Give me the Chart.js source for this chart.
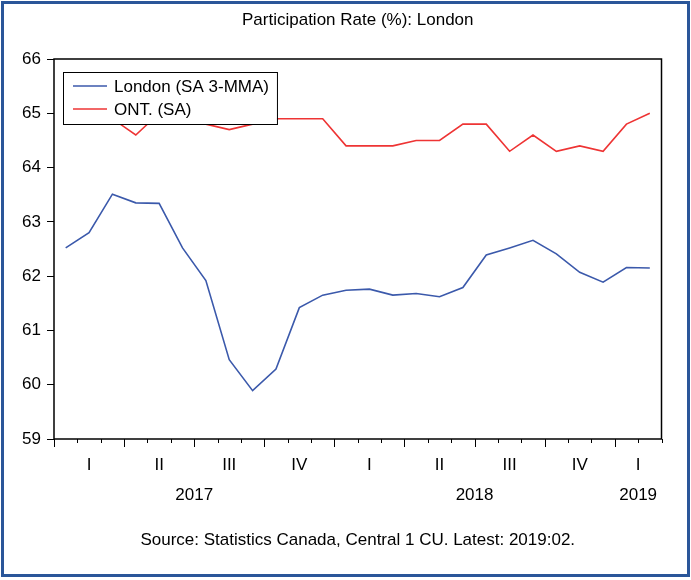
<!DOCTYPE html>
<html>
<head>
<meta charset="utf-8">
<script src="https://cdn.jsdelivr.net/npm/chart.js@4.4.1/dist/chart.umd.min.js"></script>
<style>
  body { margin: 0; background: #fff; }
  #wrap { position: relative; width: 691px; height: 580px; }
  #frame { position: absolute; left: 1px; top: 1px; width: 683px; height: 570px; border: 3px solid #2a5699; pointer-events: none; }
</style>
</head>
<body>
<div id="wrap">
  <canvas id="myChart" width="691" height="580"></canvas>
  <div id="frame"></div>
</div>
<script>
// monthly, Jan 2017 .. Feb 2019
const months = [
  '2017-01', '2017-02', '2017-03', '2017-04', '2017-05', '2017-06',
  '2017-07', '2017-08', '2017-09', '2017-10', '2017-11', '2017-12',
  '2018-01', '2018-02', '2018-03', '2018-04', '2018-05', '2018-06',
  '2018-07', '2018-08', '2018-09', '2018-10', '2018-11', '2018-12',
  '2019-01', '2019-02'
];
const london = [
  62.52, 62.80, 63.51, 63.35, 63.34, 62.52, 61.92, 60.46, 59.89, 60.29, 61.42, 61.65,
  61.74, 61.76, 61.65, 61.68, 61.62, 61.79, 62.39, 62.52, 62.66, 62.41, 62.07, 61.89,
  62.16, 62.15
];
const ontario = [
  64.9, 64.9, 64.9, 64.6, 65.0, 64.8, 64.8, 64.7, 64.8, 64.9, 64.9, 64.9,
  64.4, 64.4, 64.4, 64.5, 64.5, 64.8, 64.8, 64.3, 64.6, 64.3, 64.4, 64.3,
  64.8, 65.0
];
const yTicks = [59, 60, 61, 62, 63, 64, 65, 66];
const quarterNames = ['I', 'II', 'III', 'IV'];
const seriesNames = ['London (SA 3-MMA)', 'ONT. (SA)'];
const chartTitle = 'Participation Rate (%): London';
const sourceNote = 'Source: Statistics Canada, Central 1 CU. Latest: 2019:02.';

const FONT = '"Liberation Sans", Arial, sans-serif';
Chart.defaults.font.family = FONT;

// groups of month indexes (by quarter or by year)
function groups(keyFn) {
  const out = [];
  months.forEach(function (m, i) {
    const k = keyFn(m);
    const last = out[out.length - 1];
    if (last && last.key === k) last.end = i;
    else out.push({ key: k, start: i, end: i });
  });
  return out;
}
const quarters = groups(function (m) { return m.slice(0, 4) + 'Q' + Math.floor((+m.slice(5) - 1) / 3); });
const years = groups(function (m) { return m.slice(0, 4); });

const decorations = {
  id: 'decorations',
  afterDatasetsDraw(chart) {
    const ctx = chart.ctx, a = chart.chartArea;
    // legend box inside the plot
    ctx.save();
    ctx.font = '17px ' + FONT;
    const bx = a.left + 9, by = a.top + 13;
    const tw = Math.max.apply(null, seriesNames.map(function (s) { return ctx.measureText(s).width; }));
    const bw = 51 + tw + 8, bh = 52;
    ctx.fillStyle = '#fff';
    ctx.fillRect(bx, by, bw, bh);
    ctx.strokeStyle = '#000';
    ctx.lineWidth = 1;
    ctx.strokeRect(bx + 0.5, by + 0.5, bw, bh);
    chart.data.datasets.forEach(function (ds, i) {
      const cy = by + 14 + i * 23;
      ctx.strokeStyle = ds.borderColor;
      ctx.lineWidth = 1.5;
      ctx.beginPath();
      ctx.moveTo(bx + 10, cy);
      ctx.lineTo(bx + 44, cy);
      ctx.stroke();
      ctx.fillStyle = '#000';
      ctx.textBaseline = 'middle';
      ctx.textAlign = 'left';
      ctx.fillText(ds.label, bx + 51, cy + 1);
    });
    ctx.restore();
  },
  afterDraw(chart) {
    const ctx = chart.ctx, a = chart.chartArea, x = chart.scales.x;
    ctx.save();
    ctx.strokeStyle = '#000';
    ctx.lineWidth = 1.5;
    ctx.strokeRect(a.left, a.top, a.right - a.left, a.bottom - a.top);
    // month ticks, longer at quarter starts
    ctx.lineWidth = 1;
    for (let i = 0; i <= months.length; i++) {
      const px = Math.round(x.getPixelForValue(i - 0.5)) + 0.5;
      const major = i < months.length && (+months[i].slice(5) - 1) % 3 === 0;
      ctx.beginPath();
      ctx.moveTo(px, a.bottom);
      ctx.lineTo(px, a.bottom + (major ? 8 : 4));
      ctx.stroke();
    }
    ctx.fillStyle = '#000';
    ctx.textAlign = 'center';
    ctx.textBaseline = 'middle';
    ctx.font = '17px ' + FONT;
    quarters.forEach(function (q) {
      const px = (x.getPixelForValue(q.start) + x.getPixelForValue(q.end)) / 2;
      ctx.fillText(quarterNames[+q.key.slice(5)], px, 465);
    });
    years.forEach(function (y) {
      const px = (x.getPixelForValue(y.start) + x.getPixelForValue(y.end)) / 2;
      ctx.fillText(y.key, px, 495);
    });
    const cx = (a.left + a.right) / 2;
    ctx.fillText(chartTitle, cx, 20);
    ctx.fillText(sourceNote, cx, 540);
    ctx.restore();
  }
};

const chart1 = document.getElementById('myChart').getContext('2d');
new Chart(chart1, {
  type: 'line',
  data: {
    labels: months,
    datasets: [
      {
        label: seriesNames[0],
        data: london,
        borderColor: '#3b59ab',
        borderWidth: 1.6,
        pointRadius: 0,
        tension: 0,
        fill: false
      },
      {
        label: seriesNames[1],
        data: ontario,
        borderColor: '#ee3434',
        borderWidth: 1.6,
        pointRadius: 0,
        tension: 0,
        fill: false
      }
    ]
  },
  options: {
    responsive: false,
    animation: false,
    layout: { padding: { left: 0, right: 29.5, top: 59, bottom: 0 } },
    plugins: {
      legend: { display: false },
      tooltip: { enabled: false }
    },
    scales: {
      x: {
        type: 'category',
        offset: true,
        grid: { display: false },
        border: { display: false },
        ticks: { display: false },
        afterFit: function (s) { s.height = 141; }
      },
      y: {
        min: yTicks[0],
        max: yTicks[yTicks.length - 1],
        afterBuildTicks: function (s) { s.ticks = yTicks.map(function (v) { return { value: v }; }); },
        grid: { display: true, drawOnChartArea: false, drawTicks: true, tickLength: 7, color: '#000' },
        border: { display: false },
        ticks: { color: '#000', font: { size: 17 }, padding: 6 },
        afterFit: function (s) { s.width = 54; }
      }
    }
  },
  plugins: [decorations]
});
</script>
</body>
</html>
